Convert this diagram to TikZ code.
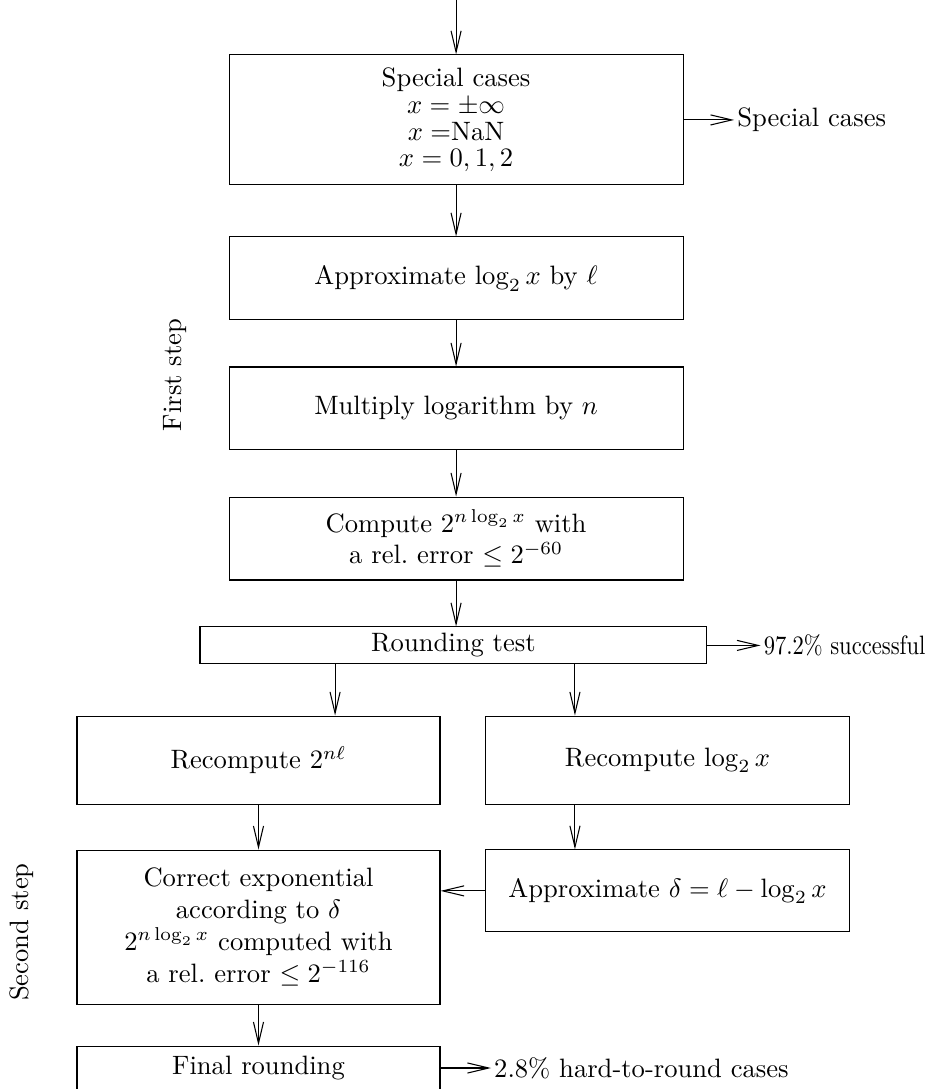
\documentclass[tikz,border=0pt]{standalone}
\usetikzlibrary{arrows.meta}
\begin{document}
\begin{tikzpicture}[x=1pt, y=1pt, >={Straight Barb[length=8pt, width=3.8pt]},
  box/.style={draw, align=center, inner sep=2pt},
  outlabel/.style={anchor=west, inner sep=1pt}]
\useasboundingbox (0,0) rectangle (348.6,-409.5);
% first step
\coordinate (in) at (171.5,0);
\node[box, minimum width=170.7pt, minimum height=48.9pt] (sc) at (171.5,-45.1)
  {Special cases\\[-2pt] $x=\pm\infty$\\[-2pt] $x=$NaN\\[-2pt] $x=0,1,2$};
\node[box, minimum width=170.7pt, minimum height=31.2pt] (ap) at (171.5,-104.7) {Approximate $\log_2 x$ by $\ell$};
\node[box, minimum width=170.7pt, minimum height=31.2pt] (ml) at (171.5,-153.6) {Multiply logarithm by $n$};
\node[box, minimum width=170.7pt, minimum height=31.2pt] (cp) at (171.5,-202.5)
  {Compute $2^{n\log_2 x}$ with\\ a rel.\ error $\leq 2^{-60}$};
\node[box, minimum width=190.6pt, minimum height=13.9pt] (rt) at (170.5,-242.7) {Rounding test};
\node[outlabel] (scout) at ([xshift=19pt]sc.east) {Special cases};
\node[outlabel] (rtout) at ([xshift=20pt]rt.east) {\scalebox{0.85}[1]{97.2\% successful}};
\node[rotate=90] (first) at (65.8,-141) {First step};
\draw[->] (in) -- (sc.north);
\draw[->] (sc.east) -- (scout.west);
\draw[->] (sc.south) -- (ap.north);
\draw[->] (ap.south) -- (ml.north);
\draw[->] (ml.south) -- (cp.north);
\draw[->] (cp.south) -- (cp.south |- rt.north);
\draw[->] (rt.east) -- (rtout.west);
% second step
\coordinate (splitL) at (126,0);
\coordinate (splitR) at (216.2,0);
\node[box, minimum width=136.5pt, minimum height=33.1pt] (rl) at (97.2,-285.8) {Recompute $2^{n\ell}$};
\node[box, minimum width=137.2pt, minimum height=33.1pt] (rr) at (251.0,-285.8) {Recompute $\log_2 x$};
\node[box, minimum width=136.5pt, minimum height=57.9pt] (ce) at (97.2,-348.6)
  {Correct exponential\\ according to $\delta$\\ $2^{n\log_2 x}$ computed with\\ a rel.\ error $\leq 2^{-116}$};
\node[box, minimum width=137.2pt, minimum height=30.8pt] (ad) at (251.0,-335.0) {Approximate $\delta=\ell-\log_2 x$};
\node[box, minimum width=136.5pt, minimum height=16.5pt] (fr) at (97.2,-401.6) {Final rounding};
\node[outlabel] (frout) at ([xshift=19pt]fr.east) {2.8\% hard-to-round cases};
\node[rotate=90] (second) at (8.3,-350.5) {Second step};
\draw[->] (rt.south -| splitL) -- (rl.north -| splitL);
\draw[->] (rt.south -| splitR) -- (rr.north -| splitR);
\draw[->] (rl.south) -- (ce.north);
\draw[->] (rr.south -| splitR) -- (ad.north -| splitR);
\draw[->] (ad.west) -- (ad.west -| ce.east);
\draw[->] (ce.south) -- (fr.north);
\draw[->] (fr.east) -- (frout.west);
\end{tikzpicture}
\end{document}
